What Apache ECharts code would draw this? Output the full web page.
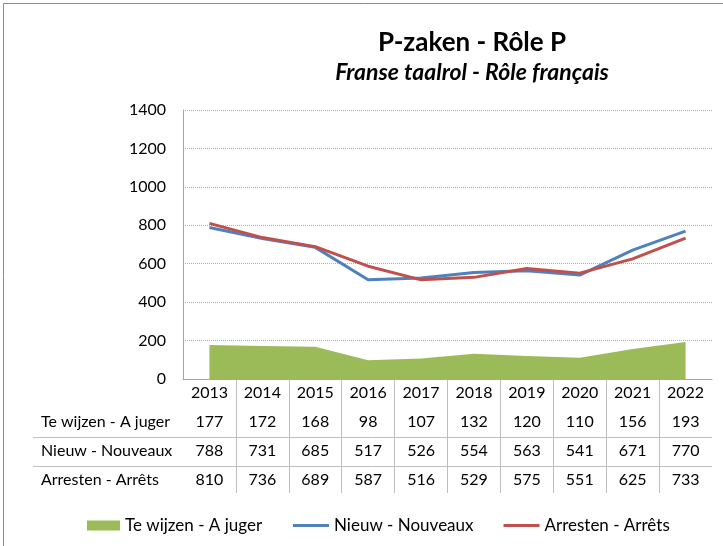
<!DOCTYPE html>
<html>
<head>
<meta charset="utf-8">
<script src="https://cdn.jsdelivr.net/npm/echarts@6/dist/echarts.min.js"></script>
<style>
  html, body { margin: 0; padding: 0; background: #fff; }
  #chart { width: 723px; height: 546px; }
</style>
</head>
<body>
<div id="chart"></div>
<script>
const years = ['2013', '2014', '2015', '2016', '2017', '2018', '2019', '2020', '2021', '2022']
const teWijzen = [177, 172, 168, 98, 107, 132, 120, 110, 156, 193]
const nieuw = [788, 731, 685, 517, 526, 554, 563, 541, 671, 770]
const arresten = [810, 736, 689, 587, 516, 529, 575, 551, 625, 733]
const seriesNames = ['Te wijzen - A juger', 'Nieuw - Nouveaux', 'Arresten - Arrêts']
const yTicks = { min: 0, max: 1400, interval: 200 }

const font = 'Lato, "Open Sans", sans-serif'
const green = '#9BBB59'
const blue = '#4F81BD'
const red = '#C0504D'
const rows = [teWijzen, nieuw, arresten]

const chart = echarts.init(document.getElementById('chart'))

// the data table under the plot: one hidden-line x axis per row
const tableAxes = rows.map((values, i) => ({
  type: 'category',
  gridIndex: 0,
  position: 'bottom',
  offset: 29 * (i + 1),
  data: values.map(String),
  axisLine: { show: false },
  axisTick: { show: false },
  axisLabel: { margin: 6, fontSize: 16, color: '#000', fontFamily: font }
}))

const legendText = { fontSize: 17, color: '#000', fontFamily: font }

chart.setOption({
  animation: false,
  textStyle: { fontFamily: font },
  graphic: [
    { type: 'rect', shape: { x: 3.5, y: 3.5, width: 760, height: 600 }, style: { fill: 'none', stroke: '#8c8c8c', lineWidth: 1 }, silent: true },
    { type: 'text', x: 472, y: 43, style: { text: 'P-zaken - Rôle P', font: 'bold 26px ' + font, fill: '#000', align: 'center', verticalAlign: 'middle' } },
    { type: 'text', x: 472, y: 73, style: { text: 'Franse taalrol - Rôle français', font: 'italic bold 23px ' + font, fill: '#000', align: 'center', verticalAlign: 'middle' } },
    ...seriesNames.map((name, i) => ({ type: 'text', x: 41, y: 422 + 29 * i, style: { text: name, font: '16px ' + font, fill: '#000', verticalAlign: 'middle' } })),
    ...[437, 466].map(y => ({ type: 'line', shape: { x1: 33, y1: y + 0.5, x2: 712, y2: y + 0.5 }, style: { stroke: '#bfbfbf', lineWidth: 1 } }))
  ],
  legend: [
    {
      left: 82,
      top: 512,
      itemWidth: 33,
      itemHeight: 10,
      textStyle: legendText,
      data: [{ name: seriesNames[0], icon: 'rect' }]
    },
    {
      left: 288,
      top: 512,
      itemGap: 30,
      itemWidth: 36,
      itemHeight: 3,
      textStyle: legendText,
      data: [{ name: seriesNames[1], icon: 'rect' }, { name: seriesNames[2], icon: 'rect' }]
    }
  ],
  grid: [
    { left: 183, right: 11, top: 110, bottom: 167 },
    { left: 183, right: 11, top: 379, height: 114 }
  ],
  xAxis: [
    {
      type: 'category',
      gridIndex: 0,
      data: years,
      axisLine: { lineStyle: { color: '#a6a6a6' } },
      axisTick: { show: false },
      axisLabel: { margin: 6, fontSize: 16, color: '#000', fontFamily: font }
    },
    ...tableAxes,
    {
      type: 'category',
      gridIndex: 1,
      data: years,
      axisLine: { show: false },
      axisTick: { show: false },
      axisLabel: { show: false },
      splitLine: { show: true, showMinLine: false, showMaxLine: false, lineStyle: { color: '#bfbfbf', width: 1 } }
    }
  ],
  yAxis: [
    {
      type: 'value',
      gridIndex: 0,
      min: yTicks.min,
      max: yTicks.max,
      interval: yTicks.interval,
      axisLine: { show: true, lineStyle: { color: '#a6a6a6' } },
      axisTick: { show: false },
      axisLabel: { margin: 17, fontSize: 16, color: '#000', fontFamily: font, formatter: v => String(v) },
      splitLine: { lineStyle: { color: '#b0b0b0', type: 'dotted', width: 1 } }
    },
    { type: 'value', gridIndex: 1, show: false, splitLine: { show: false } }
  ],
  series: [
    {
      name: seriesNames[0],
      type: 'line',
      data: teWijzen,
      symbol: 'none',
      itemStyle: { color: green },
      lineStyle: { width: 0 },
      areaStyle: { color: green, opacity: 1 }
    },
    {
      name: seriesNames[1],
      type: 'line',
      data: nieuw,
      symbol: 'none',
      itemStyle: { color: blue },
      lineStyle: { color: blue, width: 3 }
    },
    {
      name: seriesNames[2],
      type: 'line',
      data: arresten,
      symbol: 'none',
      itemStyle: { color: red },
      lineStyle: { color: red, width: 3 }
    }
  ]
})
</script>
</body>
</html>
